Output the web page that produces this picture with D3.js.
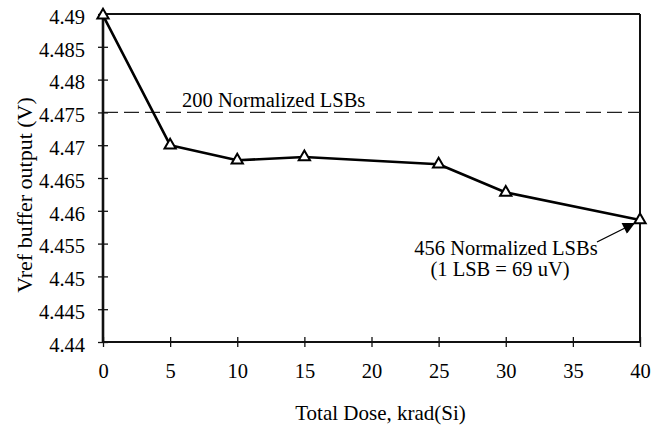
<!DOCTYPE html>
<html>
<head>
<meta charset="utf-8">
<script src="https://cdn.jsdelivr.net/npm/d3@7"></script>
<style>
  html, body { margin: 0; padding: 0; background: #fff; }
  svg { display: block; }
  text { font-family: "Liberation Serif", "Times New Roman", serif; fill: #000; }
</style>
</head>
<body>
<svg id="chart" width="652" height="426"></svg>
<script>
// ---- data ----
const doses = [0, 5, 10, 15, 25, 30, 40];
const vref = [4.4898, 4.4700, 4.4677, 4.4682, 4.4671, 4.4628, 4.4586];
const xTicks = [0, 5, 10, 15, 20, 25, 30, 35, 40];
const xTickLabels = ["0", "5", "10", "15", "20", "25", "30", "35", "40"];
const yTicks = [4.44, 4.445, 4.45, 4.455, 4.46, 4.465, 4.47, 4.475, 4.48, 4.485, 4.49];
const yTickLabels = ["4.44", "4.445", "4.45", "4.455", "4.46", "4.465", "4.47", "4.475", "4.48", "4.485", "4.49"];
const refLevel = [4.475];
const refLabel = ["200 Normalized LSBs"];
const noteLines = ["456 Normalized LSBs", "(1 LSB = 69 uV)"];
const xTitle = "Total Dose, krad(Si)";
const yTitle = "Vref buffer output (V)";

// ---- layout ----
const svg = d3.select("#chart");
const pL = 103, pR = 640, pT = 14, pB = 342;
const x = d3.scaleLinear().domain([0, 40]).range([pL, pR]);
const y = d3.scaleLinear().domain([4.44, 4.49]).range([pB, pT]);

// frame top/right
svg.append("line").attr("x1", pL).attr("x2", pR).attr("y1", pT).attr("y2", pT)
  .attr("stroke", "#111").attr("stroke-width", 2);
svg.append("line").attr("x1", pR).attr("x2", pR).attr("y1", pT).attr("y2", pB)
  .attr("stroke", "#111").attr("stroke-width", 2);

// reference dashed line
svg.selectAll(".ref").data(refLevel).enter().append("line")
  .attr("x1", pL).attr("x2", pR)
  .attr("y1", d => y(d)).attr("y2", d => y(d))
  .attr("stroke", "#222").attr("stroke-width", 1.4)
  .attr("stroke-dasharray", "15,6");
svg.append("text").attr("x", 182).attr("y", 106.5)
  .attr("font-size", 20.5).text(refLabel[0]);

// y axis
const yAxis = svg.append("g").attr("transform", `translate(${pL},0)`)
  .call(d3.axisLeft(y).tickValues(yTicks).tickFormat((d, i) => yTickLabels[i]).tickSize(5).tickPadding(13));
yAxis.select(".domain").attr("stroke", "#111").attr("stroke-width", 2.6).attr("d", `M0,${pT}V${pB}`);
yAxis.selectAll(".tick line").attr("x1", 5).attr("x2", -5).attr("stroke", "#111").attr("stroke-width", 1.3);
yAxis.selectAll(".tick text").attr("font-size", 20.5).attr("font-family", "Liberation Serif")
  .attr("fill", "#000").attr("dy", "0.45em");

// x axis
const xAxis = svg.append("g").attr("transform", `translate(0,${pB})`)
  .call(d3.axisBottom(x).tickValues(xTicks).tickFormat((d, i) => xTickLabels[i]).tickSize(5).tickPadding(16));
xAxis.select(".domain").attr("stroke", "#111").attr("stroke-width", 2).attr("d", `M${pL},0H${pR}`);
xAxis.selectAll(".tick line").attr("y1", -5).attr("y2", 5).attr("stroke", "#111").attr("stroke-width", 1.3);
xAxis.selectAll(".tick text").attr("font-size", 20.5).attr("font-family", "Liberation Serif")
  .attr("fill", "#000");

// axis titles
svg.append("text").attr("x", (pL + pR) / 2 + 9).attr("y", 420)
  .attr("text-anchor", "middle").attr("font-size", 21).text(xTitle);
svg.append("text").attr("transform", "translate(32,195) rotate(-90)")
  .attr("text-anchor", "middle").attr("font-size", 22).text(yTitle);

// data line
const pts = doses.map((d, i) => [d, vref[i]]);
svg.append("path").datum(pts)
  .attr("fill", "none").attr("stroke", "#000").attr("stroke-width", 2.6)
  .attr("stroke-linejoin", "round")
  .attr("d", d3.line().x(d => x(d[0])).y(d => y(d[1])));

// markers
svg.selectAll(".mk").data(pts).enter().append("path")
  .attr("transform", d => `translate(${x(d[0])},${y(d[1])})`)
  .attr("d", d3.symbol().type(d3.symbolTriangle).size(55)())
  .attr("fill", "#fff").attr("stroke", "#000").attr("stroke-width", 2);

// annotation
svg.append("defs").append("marker").attr("id", "ah")
  .attr("viewBox", "0 0 10 10").attr("refX", 10).attr("refY", 5)
  .attr("markerWidth", 16).attr("markerHeight", 12).attr("markerUnits", "userSpaceOnUse")
  .attr("orient", "auto")
  .append("path").attr("d", "M0,0L10,5L0,10Z").attr("fill", "#000");
const last = pts[pts.length - 1];
svg.append("line").attr("x1", 597).attr("y1", 242)
  .attr("x2", x(last[0]) - 5).attr("y2", y(last[1]) + 3)
  .attr("stroke", "#000").attr("stroke-width", 1.3).attr("marker-end", "url(#ah)");
svg.append("text").attr("x", 506).attr("y", 255).attr("text-anchor", "middle")
  .attr("font-size", 20.5).text(noteLines[0]);
svg.append("text").attr("x", 500).attr("y", 276).attr("text-anchor", "middle")
  .attr("font-size", 20.5).text(noteLines[1]);
</script>
</body>
</html>
